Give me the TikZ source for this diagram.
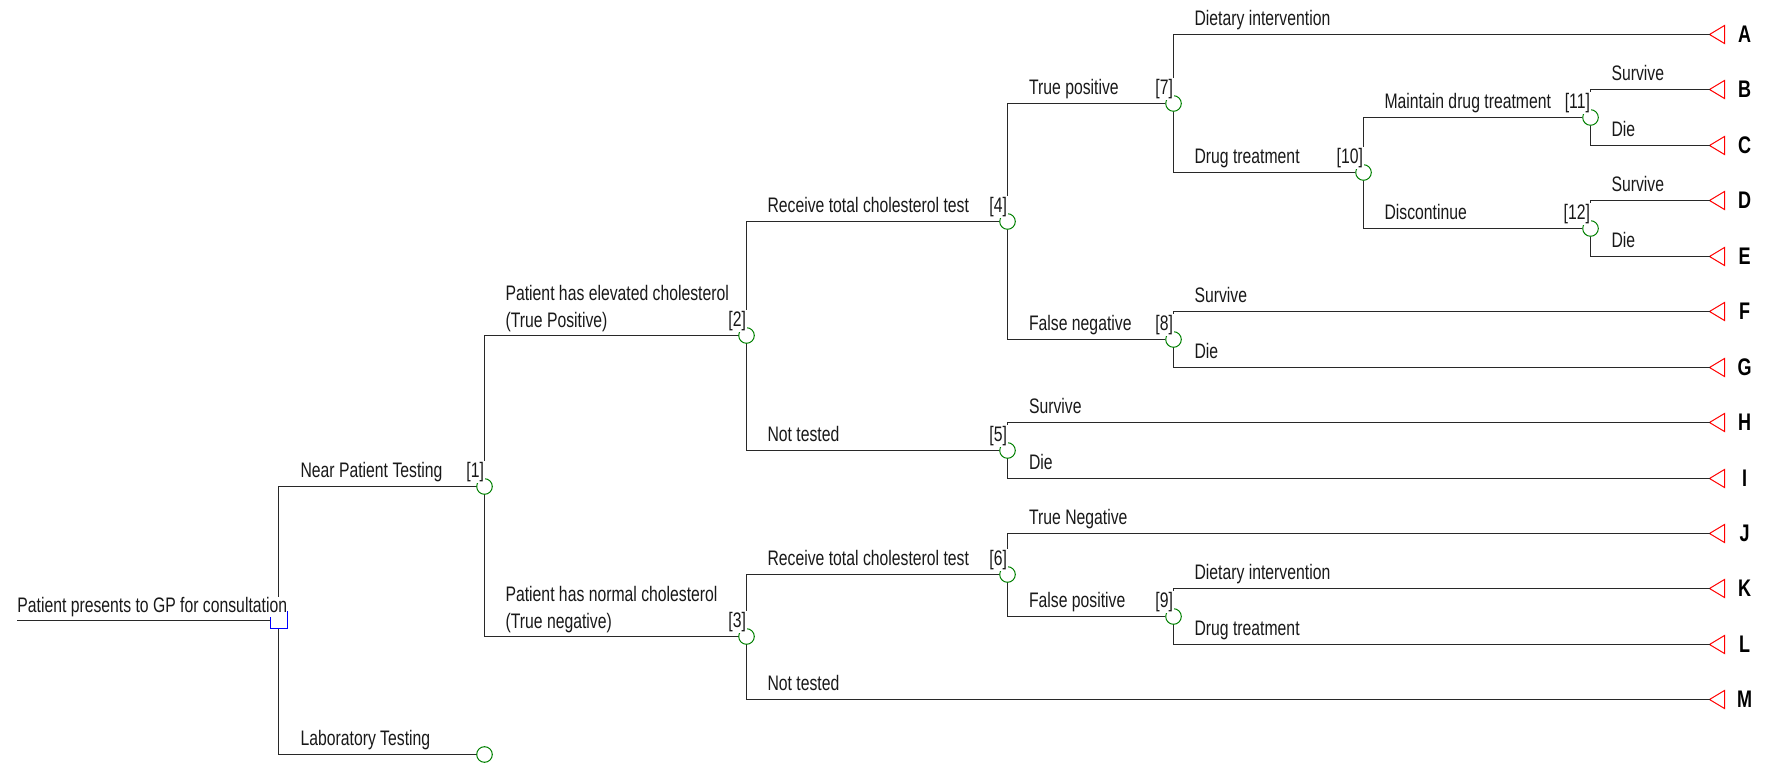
\documentclass[tikz,border=0pt]{standalone}
\usepackage{fontspec}
\setmainfont{Liberation Sans}[FakeStretch=0.75]
\definecolor{tgreen}{RGB}{0,128,0}
\definecolor{lncol}{RGB}{40,40,40}
\begin{document}
\begin{tikzpicture}[x=0.5pt,y=-0.5pt,
  ln/.style={draw=lncol,line width=0.5pt},
  chance/.style={circle,draw=tgreen,fill=white,line width=0.5pt,minimum size=7.8pt,inner sep=0pt},
  decision/.style={rectangle,draw=blue,fill=white,line width=0.5pt,minimum size=8.5pt,inner sep=0pt},
  term/.style={draw=red,line width=0.5pt,fill=white},
  lbl/.style={anchor=base west,font=\fontsize{10.5}{12}\selectfont,fill=white,inner sep=0.6pt,text=black!90},
  num/.style={anchor=base east,font=\fontsize{10.5}{12}\selectfont,fill=white,inner sep=0.6pt,text=black!90},
  letter/.style={font=\fontsize{12}{14}\selectfont\bfseries,inner sep=0pt,text=black}]
\useasboundingbox (0,0) rectangle (1768,763);
% tree nodes
\coordinate (root) at (17,620.5);
\node[decision] (d0) at (278.5,620.5) {};
\node[chance] (n1) at (484.5,486.5) {};
\node[chance] (lab) at (484.5,754.5) {};
\node[chance] (n2) at (746.5,335.5) {};
\node[chance] (n3) at (746.5,636.5) {};
\node[chance] (n4) at (1007.5,221.5) {};
\node[chance] (n5) at (1007.5,450.5) {};
\node[chance] (n6) at (1007.5,574.5) {};
\node[chance] (n7) at (1173.5,103.5) {};
\node[chance] (n8) at (1173.5,339.5) {};
\node[chance] (n9) at (1173.5,616.5) {};
\node[chance] (n10) at (1363.5,172.5) {};
\node[chance] (n11) at (1590.5,117.5) {};
\node[chance] (n12) at (1590.5,228.5) {};
% terminals
\coordinate (tA) at (1709.5,34.5);
\coordinate (tB) at (1709.5,89.5);
\coordinate (tC) at (1709.5,145.5);
\coordinate (tD) at (1709.5,200.5);
\coordinate (tE) at (1709.5,256.5);
\coordinate (tF) at (1709.5,311.5);
\coordinate (tG) at (1709.5,367.5);
\coordinate (tH) at (1709.5,422.5);
\coordinate (tI) at (1709.5,478.5);
\coordinate (tJ) at (1709.5,533.5);
\coordinate (tK) at (1709.5,588.5);
\coordinate (tL) at (1709.5,644.5);
\coordinate (tM) at (1709.5,699.5);
\foreach \t in {A,B,C,D,E,F,G,H,I,J,K,L,M}{
  \draw[term] (t\t) -- ++(15,-9) -- ++(0,18) -- cycle;
  \path (t\t) ++(35,0) node[letter] (L\t) {\t};
}
% connectors
\draw[ln] (root) -- (d0);
\draw[ln] (d0) |- (n1);
\draw[ln] (d0) |- (lab);
\draw[ln] (n1) |- (n2);
\draw[ln] (n1) |- (n3);
\draw[ln] (n2) |- (n4);
\draw[ln] (n2) |- (n5);
\draw[ln] (n3) |- (n6);
\draw[ln] (n3) |- (tM);
\draw[ln] (n4) |- (n7);
\draw[ln] (n4) |- (n8);
\draw[ln] (n5) |- (tH);
\draw[ln] (n5) |- (tI);
\draw[ln] (n6) |- (tJ);
\draw[ln] (n6) |- (n9);
\draw[ln] (n7) |- (tA);
\draw[ln] (n7) |- (n10);
\draw[ln] (n8) |- (tF);
\draw[ln] (n8) |- (tG);
\draw[ln] (n9) |- (tK);
\draw[ln] (n9) |- (tL);
\draw[ln] (n10) |- (n11);
\draw[ln] (n10) |- (n12);
\draw[ln] (n11) |- (tB);
\draw[ln] (n11) |- (tC);
\draw[ln] (n12) |- (tD);
\draw[ln] (n12) |- (tE);
% branch labels
\node[lbl,inner sep=0pt] (x0) at (17,612.3) {Patient presents to GP for consultation};
\node[lbl] (x1) at (299,478) {Near Patient Testing};
\node[lbl] (x2) at (299,746) {Laboratory Testing};
\node[lbl] (x3a) at (504,300.7) {Patient has elevated cholesterol};
\node[lbl] (x3b) at (504,327.3) {(True Positive)};
\node[lbl] (x4a) at (504,601.7) {Patient has normal cholesterol};
\node[lbl] (x4b) at (504,628.3) {(True negative)};
\node[lbl] (x5) at (766,213) {Receive total cholesterol test};
\node[lbl] (x6) at (766,442) {Not tested};
\node[lbl] (x7) at (766,566) {Receive total cholesterol test};
\node[lbl] (x8) at (766,691) {Not tested};
\node[lbl] (x9) at (1027.5,95) {True positive};
\node[lbl] (x10) at (1027.5,331) {False negative};
\node[lbl] (x11) at (1027.5,414) {Survive};
\node[lbl] (x12) at (1027.5,470) {Die};
\node[lbl] (x13) at (1027.5,525) {True Negative};
\node[lbl] (x14) at (1027.5,608) {False positive};
\node[lbl] (x15) at (1193,26) {Dietary intervention};
\node[lbl] (x16) at (1193,164) {Drug treatment};
\node[lbl] (x17) at (1193,303) {Survive};
\node[lbl] (x18) at (1193,359) {Die};
\node[lbl] (x19) at (1193,580) {Dietary intervention};
\node[lbl] (x20) at (1193,636) {Drug treatment};
\node[lbl] (x21) at (1383,109) {Maintain drug treatment};
\node[lbl] (x22) at (1383,220) {Discontinue};
\node[lbl] (x23) at (1610,81) {Survive};
\node[lbl] (x24) at (1610,137) {Die};
\node[lbl] (x25) at (1610,192) {Survive};
\node[lbl] (x26) at (1610,248) {Die};
% node numbers
\node[num] (k1) at (485.5,477.5) {[1]};
\node[num] (k2) at (747.5,326.5) {[2]};
\node[num] (k3) at (747.5,627.5) {[3]};
\node[num] (k4) at (1008.5,212.5) {[4]};
\node[num] (k5) at (1008.5,441.5) {[5]};
\node[num] (k6) at (1008.5,565.5) {[6]};
\node[num] (k7) at (1174.5,94.5) {[7]};
\node[num] (k8) at (1174.5,330.5) {[8]};
\node[num] (k9) at (1174.5,607.5) {[9]};
\node[num] (k10) at (1364.5,163.5) {[10]};
\node[num] (k11) at (1591.5,108.5) {[11]};
\node[num] (k12) at (1591.5,219.5) {[12]};
\end{tikzpicture}
\end{document}
